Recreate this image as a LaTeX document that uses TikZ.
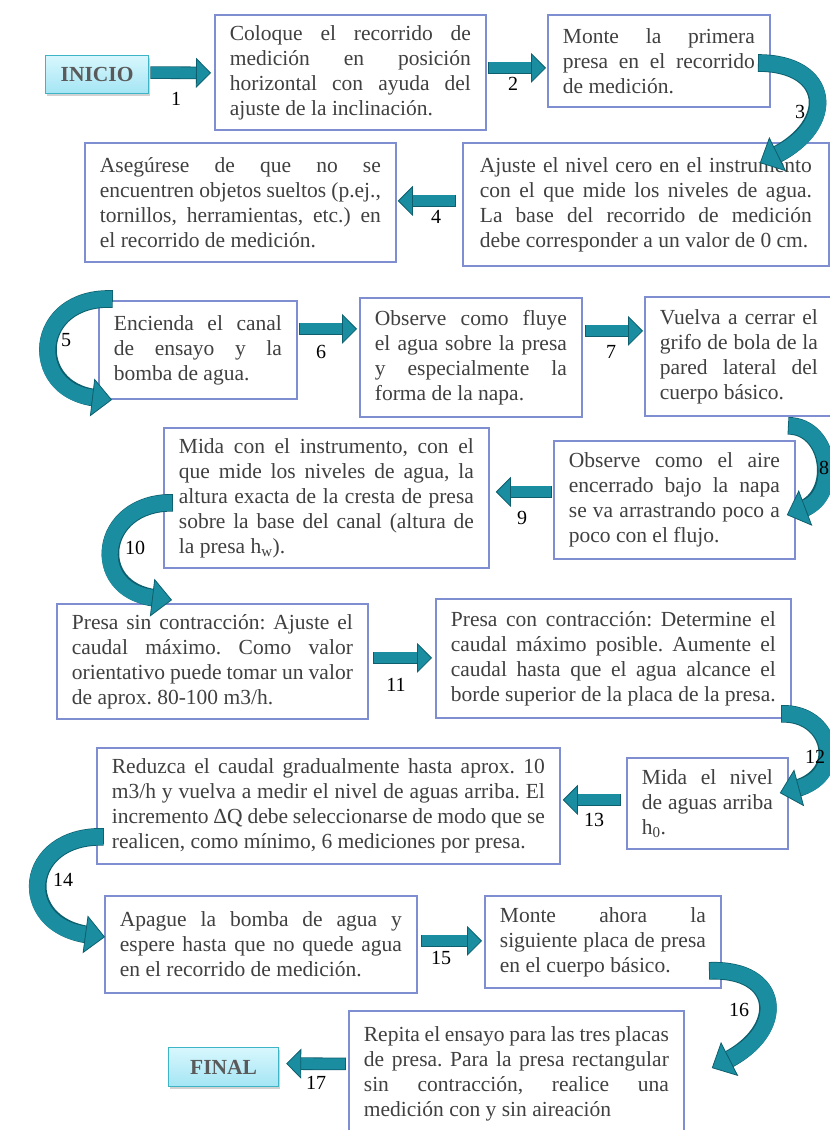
\documentclass[tikz,border=0pt]{standalone}
\usepackage{fontspec}
\setmainfont{Liberation Serif}
\usetikzlibrary{arrows.meta,shadows}
\definecolor{boxc}{HTML}{7F8ED0}
\definecolor{txt}{HTML}{404040}
\definecolor{arrf}{HTML}{1A8EA0}
\definecolor{arrd}{HTML}{0D5F6E}
\definecolor{termc}{HTML}{3DB5C6}
\definecolor{termtop}{HTML}{D8F7FD}
\definecolor{termbot}{HTML}{A4E5F4}
\definecolor{termtxt}{HTML}{5A5A5A}
\newcommand\myfont{\fontsize{21.5}{25}\selectfont\frenchspacing}
\newcommand\mylabfont{\fontsize{20}{22}\selectfont}
\newcommand\jl[1]{\makebox[\hsize][s]{\spaceskip=0pt\xspaceskip=0pt #1}\\}
\newcommand\jlast[1]{\mbox{\spaceskip=0pt\xspaceskip=0pt #1}}
\tikzset{
  box/.style={draw=boxc, line width=1.8pt, fill=white, anchor=north west,
    inner xsep=15pt, inner ysep=0pt, align=left, text=txt, font=\myfont},
  term/.style={draw=termc, line width=1.2pt, top color=termtop, bottom color=termbot,
    anchor=north west, text=termtxt, font=\myfont\bfseries, inner sep=0pt,
    drop shadow={opacity=0.35, shadow xshift=1.5pt, shadow yshift=-2.5pt}},
  sarr/.style={draw=arrf, line width=11pt,
    -{Triangle[length=15pt,width=30pt,line width=0.8pt,fill=arrf,color=arrd]},
    preaction={draw=arrd, line width=12.6pt, -, shorten >=12pt, shorten <=-0.8pt}},
  carr/.style={draw=arrf, line width=16pt,
    -{Triangle[length=20pt,width=38pt,line width=0.8pt,fill=arrf,color=arrd]},
    preaction={draw=arrd, line width=17.6pt, -, shorten >=16pt, shorten <=-0.8pt}},
  lab/.style={font=\mylabfont, text=black, inner sep=0pt}
}
\begin{document}
\begin{tikzpicture}[x=1pt,y=-1pt]
\useasboundingbox (0,0) rectangle (830,1130);
\fill[white] (0,0) rectangle (830,1130);

% terminals
\node[term, minimum width=103pt, minimum height=38pt] (ini) at (45,55) {INICIO};
\node[term, minimum width=110pt, minimum height=39pt] (fin) at (168,1047) {FINAL};

% boxes
\node[box, minimum width=271pt, minimum height=115pt, text width=241pt] (A) at (214,14)
 {\jl{Coloque el recorrido de}\jl{medición en posición}\jl{horizontal con ayuda del}\jlast{ajuste de la inclinación.}};
\node[box, minimum width=222pt, minimum height=92pt, text width=192pt] (B) at (547,14)
 {\jl{Monte la primera}\jl{presa en el recorrido}\jlast{de medición.}};
\node[box, minimum width=366pt, minimum height=123pt, text width=332pt, inner xsep=17pt] (C) at (462,142)
 {\jl{Ajuste el nivel cero en el instrumento}\jl{con el que mide los niveles de agua.}\jl{La base del recorrido de medición}\jlast{debe corresponder a un valor de 0 cm.}};
\node[box, minimum width=311pt, minimum height=119pt, text width=281pt] (D) at (84,142)
 {\jl{Asegúrese de que no se}\jl{encuentren objetos sueltos (p.ej.,}\jl{tornillos, herramientas, etc.) en}\jlast{el recorrido de medición.}};
\node[box, minimum width=198pt, minimum height=98pt, text width=168pt] (E) at (98,300)
 {\jl{Encienda el canal}\jl{de ensayo y la}\jlast{bomba de agua.}};
\node[box, minimum width=222pt, minimum height=119pt, text width=192pt] (F) at (359,297)
 {\jl{Observe como fluye}\jl{el agua sobre la presa}\jl{y especialmente la}\jlast{forma de la napa.}};
\node[box, minimum width=188pt, minimum height=119pt, text width=158pt] (G) at (644,296)
 {\jl{Vuelva a cerrar el}\jl{grifo de bola de la}\jl{pared lateral del}\jlast{cuerpo básico.}};
\node[box, minimum width=325pt, minimum height=140pt, text width=295pt] (H) at (163,427)
 {\jl{Mida con el instrumento, con el}\jl{que mide los niveles de agua, la}\jl{altura exacta de la cresta de presa}\jl{sobre la base del canal (altura de}\jlast{la presa h\textsubscript{w}).}};
\node[box, minimum width=241pt, minimum height=118pt, text width=211pt] (I) at (553,440)
 {\jl{Observe como el aire}\jl{encerrado bajo la napa}\jl{se va arrastrando poco a}\jlast{poco con el flujo.}};
\node[box, minimum width=311pt, minimum height=115pt, text width=281pt] (J) at (56,603)
 {\jl{Presa sin contracción: Ajuste el}\jl{caudal máximo. Como valor}\jl{orientativo puede tomar un valor}\jlast{de aprox. 80-100 m3/h.}};
\node[box, minimum width=355pt, minimum height=119pt, text width=325pt] (K) at (435,598)
 {\jl{Presa con contracción: Determine el}\jl{caudal máximo posible. Aumente el}\jl{caudal hasta que el agua alcance el}\jlast{borde superior de la placa de la presa.}};
\node[box, minimum width=463pt, minimum height=116pt, text width=433pt] (L) at (96,747)
 {\jl{Reduzca el caudal gradualmente hasta aprox. 10}\jl{m3/h y vuelva a medir el nivel de aguas arriba. El}\jl{incremento ΔQ debe seleccionarse de modo que se}\jlast{realicen, como mínimo, 6 mediciones por presa.}};
\node[box, minimum width=161pt, minimum height=91pt, text width=131pt] (M) at (626,757)
 {\jl{Mida el nivel}\jl{de aguas arriba}\jlast{h\textsubscript{0}.}};
\node[box, minimum width=312pt, minimum height=97pt, text width=282pt] (N) at (104,895)
 {\jl{Apague la bomba de agua y}\jl{espere hasta que no quede agua}\jlast{en el recorrido de medición.}};
\node[box, minimum width=236pt, minimum height=92pt, text width=206pt] (O) at (484,895)
 {\jl{Monte ahora la}\jl{siguiente placa de presa}\jlast{en el cuerpo básico.}};
\node[box, minimum width=335pt, minimum height=125pt, text width=305pt] (P) at (348,1010)
 {\jl{Repita el ensayo para las tres placas}\jl{de presa. Para la presa rectangular}\jl{sin contracción, realice una}\jlast{medición con y sin aireación}};

% straight arrows
\draw[sarr] ([xshift=2pt,yshift=2pt]ini.east) -- ([xshift=-3pt,yshift=-0.5pt]A.west);
\draw[sarr] ([xshift=2pt,yshift=4.5pt]A.east) -- ([xshift=-1pt,yshift=-7pt]B.west);
\draw[sarr] ([xshift=-7pt,yshift=3.5pt]C.west) -- ([xshift=1pt,yshift=1.5pt]D.east);
\draw[sarr] ([xshift=2pt,yshift=21pt]E.east) -- ([xshift=-2pt,yshift=28.5pt]F.west);
\draw[sarr] ([xshift=3pt,yshift=26.5pt]F.east) -- ([xshift=-1pt,yshift=25.5pt]G.west);
\draw[sarr] ([xshift=-2pt,yshift=8pt]I.west) -- ([xshift=6pt,yshift=6pt]H.east);
\draw[sarr] ([xshift=5pt,yshift=3.5pt]J.east) -- ([xshift=-3pt,yshift=0.5pt]K.west);
\draw[sarr] ([xshift=-6pt,yshift=3.5pt]M.west) -- ([xshift=2pt,yshift=6pt]L.east);
\draw[sarr] ([xshift=4pt,yshift=3.5pt]N.east) -- ([xshift=-2pt,yshift=1pt]O.west);
\draw[sarr] ([xshift=-3pt,yshift=9.5pt]P.west) -- ([xshift=7pt,yshift=3.5pt]fin.east);

% curved arrows
\draw[carr] ([xshift=-12pt,yshift=-49pt]B.north east) .. controls +(73,0) and +(77,-38) .. ([xshift=-70pt,yshift=-21pt]C.north east);
\draw[carr] ([xshift=14pt,yshift=1pt]E.north west) .. controls +(-80,-3) and +(-85,-10) .. ([xshift=14pt]E.south west);
\draw[carr] ([xshift=-45pt,yshift=-9pt]G.south east) .. controls +(42,0) and +(53,-20) .. ([xshift=-9pt,yshift=-75pt]I.north east);
\draw[carr] ([xshift=9pt,yshift=66pt]H.south west) .. controls +(-74,-1) and +(-84,-10) .. ([xshift=116pt,yshift=3pt]J.north west);
\draw[carr] ([xshift=-10pt,yshift=5pt]K.south east) .. controls +(50,-2) and +(67,-18) .. ([xshift=-9pt,yshift=-36pt]M.north east);
\draw[carr] ([xshift=7pt,yshift=28pt]L.south west) .. controls +(-81,-2) and +(-90,-12) .. ([xshift=1pt,yshift=-42pt]N.north west);
\draw[carr] ([xshift=-12pt,yshift=18pt]O.south east) .. controls +(72,-3) and +(75,-38) .. ([xshift=27pt,yshift=-58pt]P.north east);

% labels
\node[lab] (l1) at (176,99) {1};
\node[lab] (l2) at (513,84) {2};
\node[lab] (l3) at (800,112) {3};
\node[lab] (l4) at (436,217) {4};
\node[lab] (l5) at (66,340) {5};
\node[lab] (l6) at (321,352) {6};
\node[lab] (l7) at (611,352) {7};
\node[lab] (l8) at (824,468) {8};
\node[lab] (l9) at (522,518) {9};
\node[lab] (l10) at (135,548) {10};
\node[lab] (l11) at (396,685) {11};
\node[lab] (l12) at (815,757) {12};
\node[lab] (l13) at (594,820) {13};
\node[lab] (l14) at (63,880) {14};
\node[lab] (l15) at (441,958) {15};
\node[lab] (l16) at (739,1010) {16};
\node[lab] (l17) at (316,1083) {17};
\end{tikzpicture}
\end{document}
